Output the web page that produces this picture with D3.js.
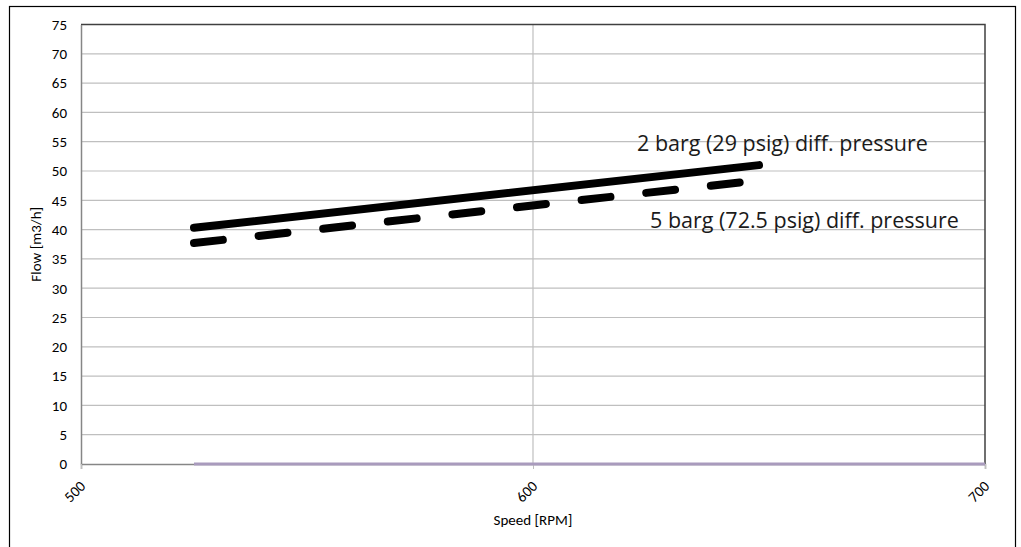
<!DOCTYPE html>
<html>
<head>
<meta charset="utf-8">
<script src="https://cdn.jsdelivr.net/npm/d3@7"></script>
<style>
  body { margin: 0; background: #fff; }
  svg { display: block; }
</style>
</head>
<body>
<div id="chart"></div>
<script>
// speed values (RPM) and flows (m3/h)
const speeds = [525, 650];
const flow2barg = [40.3, 51.0];
const flow5barg = [37.7, 48.4];
const baseSpeeds = [525, 700];
const baseFlow = [0, 0];

const yTicks = d3.range(0, 80, 5);
const xTicks = [500, 600, 700];

const labels = [
  { text: '2 barg (29 psig) diff. pressure', x: 637, y: 53.4 },
  { text: '5 barg (72.5 psig) diff. pressure', x: 650, y: 40.3 }
];

const width = 1021, height = 547;
const margin = { left: 81, right: 36, top: 24.5, bottom: 83 };

const svg = d3.select('#chart').append('svg')
  .attr('width', width)
  .attr('height', height);

// outer chart frame
svg.append('rect')
  .attr('x', 9.5).attr('y', 6.5)
  .attr('width', 1006).attr('height', 560)
  .attr('fill', 'none')
  .attr('stroke', '#000')
  .attr('stroke-width', 1.2);

const x = d3.scaleLinear().domain([500, 700]).range([margin.left, width - margin.right]);
const y = d3.scaleLinear().domain([0, 75]).range([height - margin.bottom, margin.top]);

const font = 'Carlito, Calibri, "Open Sans", sans-serif';

// horizontal gridlines
svg.append('g')
  .selectAll('line')
  .data(yTicks.filter(d => d > 0 && d < 75))
  .join('line')
  .attr('x1', x(500)).attr('x2', x(700))
  .attr('y1', d => y(d)).attr('y2', d => y(d))
  .attr('stroke', '#bfbfbf')
  .attr('stroke-width', 1.2);

// vertical gridline at 600
svg.append('line')
  .attr('x1', x(600)).attr('x2', x(600))
  .attr('y1', y(0)).attr('y2', y(75))
  .attr('stroke', '#bfbfbf')
  .attr('stroke-width', 1.2);

// plot border (top and right dark)
svg.append('path')
  .attr('d', `M${x(500)},${y(75)}H${x(700)}V${y(0)}`)
  .attr('fill', 'none')
  .attr('stroke', '#404040')
  .attr('stroke-width', 1.5);

// y axis
const yAxis = d3.axisLeft(y).tickValues(yTicks).tickSize(0).tickPadding(14);
const gy = svg.append('g').attr('transform', `translate(${x(500)},0)`).call(yAxis);
gy.select('.domain').attr('stroke', '#868686').attr('stroke-width', 1.5);
gy.selectAll('text').attr('font-family', font).attr('font-size', 15).attr('fill', '#000');

// x axis
const xAxis = d3.axisBottom(x).tickValues(xTicks).tickSize(5).tickPadding(0);
const gx = svg.append('g').attr('transform', `translate(0,${y(0)})`).call(xAxis);
gx.select('.domain').attr('stroke', '#868686').attr('stroke-width', 1.5);
gx.selectAll('.tick line').attr('stroke', '#bfbfbf');
gx.selectAll('text')
  .attr('font-family', font).attr('font-size', 15).attr('fill', '#000')
  .attr('text-anchor', 'end')
  .attr('y', 0).attr('dy', 0)
  .attr('transform', 'translate(5,23) rotate(-45)');

// axis titles
svg.append('text')
  .attr('x', x(600)).attr('y', 525)
  .attr('text-anchor', 'middle')
  .attr('font-family', font).attr('font-size', 15)
  .text('Speed [RPM]');

svg.append('text')
  .attr('transform', `translate(41,${y(37.5)}) rotate(-90)`)
  .attr('text-anchor', 'middle')
  .attr('font-family', font).attr('font-size', 15)
  .text('Flow [m3/h]');

const line = d3.line().x(d => x(d[0])).y(d => y(d[1]));

// base series along zero
svg.append('path')
  .datum(d3.zip(baseSpeeds, baseFlow))
  .attr('d', line)
  .attr('fill', 'none')
  .attr('stroke', '#a99bbd')
  .attr('stroke-width', 3);

// 2 barg solid
svg.append('path')
  .datum(d3.zip(speeds, flow2barg))
  .attr('d', line)
  .attr('fill', 'none')
  .attr('stroke', '#000')
  .attr('stroke-width', 8)
  .attr('stroke-linecap', 'round');

// 5 barg dashed
svg.append('path')
  .datum(d3.zip(speeds, flow5barg))
  .attr('d', line)
  .attr('fill', 'none')
  .attr('stroke', '#000')
  .attr('stroke-width', 8)
  .attr('stroke-linecap', 'round')
  .attr('stroke-dasharray', '29,36');

// series labels
svg.append('g')
  .selectAll('text')
  .data(labels)
  .join('text')
  .attr('x', d => d.x)
  .attr('y', d => y(d.y))
  .attr('font-family', '"Open Sans", sans-serif')
  .attr('font-size', 21.5)
  .attr('fill', '#1a1a1a')
  .text(d => d.text);
</script>
</body>
</html>
